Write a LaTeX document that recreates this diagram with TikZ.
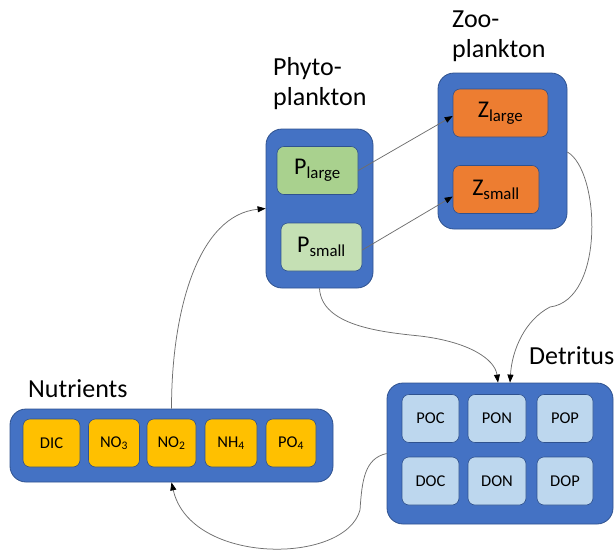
\documentclass[tikz,border=0pt]{standalone}
\usepackage{fontspec}
\setmainfont{Carlito}
\usetikzlibrary{arrows.meta}
\definecolor{boxblue}{HTML}{4472C4}
\definecolor{edgeblue}{HTML}{2F528F}
\definecolor{phytodark}{HTML}{A9D18E}
\definecolor{phytolight}{HTML}{C5E0B4}
\definecolor{zooorange}{HTML}{ED7D31}
\definecolor{nutyellow}{HTML}{FFC000}
\definecolor{detblue}{HTML}{BDD7EE}
\definecolor{flowgray}{HTML}{6E6E6E}

\begin{document}
\begin{tikzpicture}[x=1pt,y=-1pt,
  pool/.style={draw=edgeblue, fill=boxblue, line width=0.8pt, rounded corners=16pt, inner sep=0pt},
  item/.style={draw=edgeblue, line width=0.6pt, rounded corners=7pt, inner sep=0pt, minimum height=48pt},
  bigtext/.style={font=\fontsize{24}{28}\selectfont},
  smalltext/.style={font=\fontsize{16.5}{18}\selectfont},
  title/.style={font=\fontsize{26}{30}\selectfont, align=left, inner sep=0pt, anchor=base west},
  flow/.style={draw=flowgray, line width=0.75pt, -{Triangle[length=8pt,width=6pt,color=black]}},
]
\useasboundingbox (0,0) rectangle (616,552);

% Phytoplankton pool
\node[pool, minimum width=107pt, minimum height=159pt] (phyto) at (319.5,208.5) {};
\node[item, fill=phytodark, minimum width=81pt, bigtext] (plarge) at (317.5,170.5) {P\textsubscript{large}};
\node[item, fill=phytolight, minimum width=81pt, bigtext] (psmall) at (321.5,247) {P\textsubscript{small}};
\node[title] (phytolbl) at (273,105) {Phyto-\\plankton};

% Zooplankton pool
\node[pool, minimum width=129pt, minimum height=156pt] (zoo) at (502.5,151) {};
\node[item, fill=zooorange, minimum width=95pt, bigtext] (zlarge) at (500.5,113) {Z\textsubscript{large}};
\node[item, fill=zooorange, minimum width=86pt, bigtext] (zsmall) at (496,189.5) {Z\textsubscript{small}};
\node[title] (zoolbl) at (452,57) {Zoo-\\plankton};

% Nutrient pool
\node[pool, minimum width=323pt, minimum height=73pt] (nut) at (171.5,445.5) {};
\node[item, fill=nutyellow, minimum width=57pt, smalltext] (dic) at (51.5,443) {DIC};
\node[item, fill=nutyellow, minimum width=51pt, smalltext] (no3) at (114,443) {NO\textsubscript{3}};
\node[item, fill=nutyellow, minimum width=49pt, smalltext] (no2) at (171.5,443) {NO\textsubscript{2}};
\node[item, fill=nutyellow, minimum width=52pt, smalltext] (nh4) at (231,443) {NH\textsubscript{4}};
\node[item, fill=nutyellow, minimum width=50pt, smalltext] (po4) at (291,443) {PO\textsubscript{4}};
\node[title] (nutlbl) at (28,397) {Nutrients};

% Detritus pool
\node[pool, minimum width=226pt, minimum height=141pt] (det) at (500,453.5) {};
\node[item, fill=detblue, minimum width=57pt, smalltext] (poc) at (430.5,418.5) {POC};
\node[item, fill=detblue, minimum width=58pt, smalltext] (pon) at (497,418.5) {PON};
\node[item, fill=detblue, minimum width=56pt, smalltext] (pop) at (565,418.5) {POP};
\node[item, fill=detblue, minimum width=57pt, smalltext] (doc) at (430.5,481) {DOC};
\node[item, fill=detblue, minimum width=58pt, smalltext] (don) at (497,481) {DON};
\node[item, fill=detblue, minimum width=56pt, smalltext] (dop) at (565,481) {DOP};
\node[title] (detlbl) at (529,364) {Detritus};

% Waypoints of the curved fluxes
\coordinate (sinkbend) at (420,336);
\coordinate (zoobend) at (550,307);
\coordinate (remin) at (360,510);

% Uptake
\draw[flow] (no2.north |- nut.north) .. controls +(0,-99) and +(-67,6.5) .. (phyto.west);
% Grazing
\draw[flow] ([yshift=0pt]plarge.east) -- ([yshift=-3pt]zlarge.west);
\draw[flow] ([yshift=-3pt]psmall.east) -- ([yshift=-7pt]zsmall.west);
% Mortality to detritus
\draw[flow] (phyto.south) .. controls +(2,37) and +(-40,-4) .. (sinkbend)
  .. controls +(50,6) and +(-3,-23) .. ([xshift=-2pt]det.north);
\draw[flow] ([yshift=-1pt]zoo.east) .. controls +(33,19) and +(55,-7) .. (zoobend)
  .. controls +(-25,13) and +(2,-33) .. ([xshift=10pt]det.north);
% Remineralisation
\draw[flow] (det.west) .. controls +(-22,5) and +(2,-30) .. (remin)
  .. controls +(-15,55) and +(19,83) .. (no2.south |- nut.south);
\end{tikzpicture}
\end{document}
